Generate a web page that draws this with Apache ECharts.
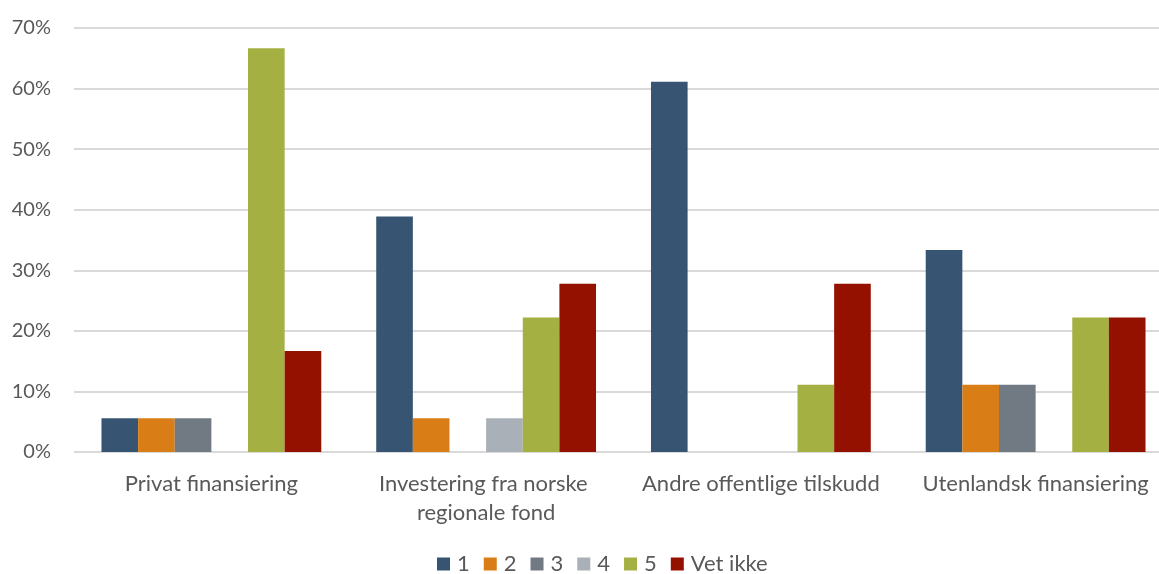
<!DOCTYPE html>
<html>
<head>
<meta charset="utf-8">
<script src="https://cdn.jsdelivr.net/npm/echarts@6/dist/echarts.min.js"></script>
<style>
  html, body { margin: 0; padding: 0; background: #fff; }
  #main { width: 1159px; height: 574px; }
</style>
</head>
<body>
<div id="main"></div>
<script>
// kategorier og verdier (andel, %)
const categories = ['Privat finansiering', 'Investering fra norske regionale fond', 'Andre offentlige tilskudd', 'Utenlandsk finansiering']
const seriesNames = ['1', '2', '3', '4', '5', 'Vet ikke']
const v1 = [5.56, 38.89, 61.11, 33.33]
const v2 = [5.56, 5.56, 0, 11.11]
const v3 = [5.56, 0, 0, 11.11]
const v4 = [0, 5.56, 0, 0]
const v5 = [66.67, 22.22, 11.11, 22.22]
const vetIkke = [16.67, 27.78, 27.78, 22.22]
const values = [v1, v2, v3, v4, v5, vetIkke]
const colors = ['#375572', '#d97d17', '#717a83', '#a9b0b7', '#a5b043', '#941100']

const font = 'Lato, "Open Sans", sans-serif'
let chart = echarts.init(document.getElementById('main'))

function getOption() {
  return {
    color: colors,
    textStyle: { fontFamily: font },
    grid: { left: 74, width: 1099, top: 28, height: 424, outerBoundsMode: 'none', containLabel: false },
    legend: {
      top: 548,
      left: 432,
      itemWidth: 13,
      itemHeight: 13,
      itemGap: 14,
      icon: 'rect',
      textStyle: { fontSize: 22, color: '#595959', fontFamily: font, padding: [0, 0, 0, 2] },
      data: seriesNames
    },
    xAxis: {
      type: 'category',
      data: categories,
      axisLine: { show: false },
      axisTick: { show: false },
      axisLabel: {
        interval: 0,
        fontSize: 22,
        color: '#595959',
        margin: 17,
        width: 260,
        overflow: 'break',
        lineHeight: 29
      }
    },
    yAxis: {
      type: 'value',
      min: 0,
      max: 70,
      interval: 10,
      axisLine: { show: false },
      axisTick: { show: false },
      axisLabel: {
        formatter: '{value}%',
        fontSize: 20,
        color: '#595959',
        margin: 23
      },
      splitLine: { lineStyle: { color: '#d9d9d9', width: 2 } }
    },
    series: seriesNames.map((name, i) => ({
      name: name,
      type: 'bar',
      data: values[i],
      barGap: '0%',
      barCategoryGap: '20%',
      itemStyle: { color: colors[i] }
    }))
  }
}

chart.setOption(getOption())
</script>
</body>
</html>
